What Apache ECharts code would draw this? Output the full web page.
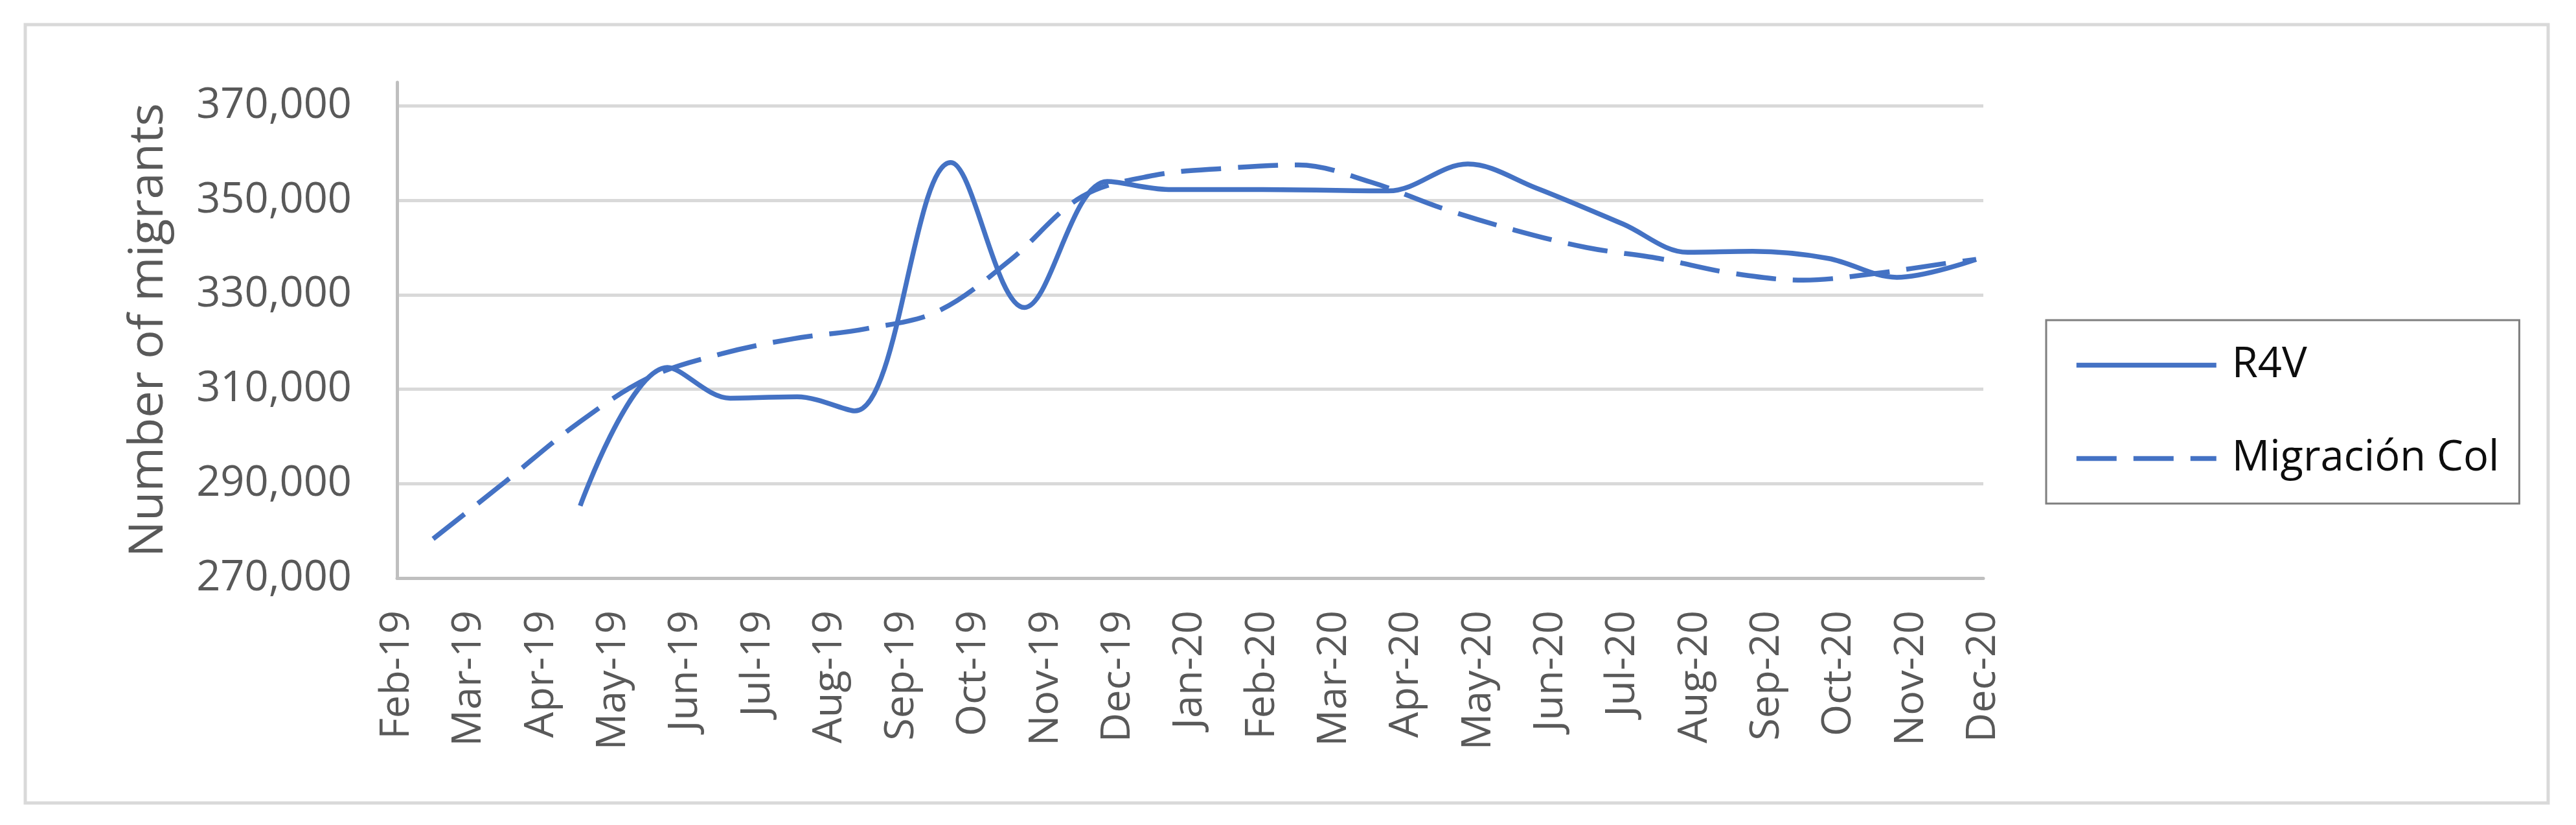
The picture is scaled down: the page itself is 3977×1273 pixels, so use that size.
<!DOCTYPE html>
<html>
<head>
<meta charset="utf-8">
<script src="https://cdn.jsdelivr.net/npm/echarts@6/dist/echarts.min.js"></script>
<style>
    html, body { margin: 0; padding: 0; background: #fff; }
    #chart { width: 3977px; height: 1273px; }
</style>
</head>
<body>
<div id="chart"></div>
<script>
// x positions are in months counted from Feb-19 (0) to Dec-20 (22)
var months = ['Feb-19', 'Mar-19', 'Apr-19', 'May-19', 'Jun-19', 'Jul-19', 'Aug-19', 'Sep-19', 'Oct-19', 'Nov-19', 'Dec-19',
    'Jan-20', 'Feb-20', 'Mar-20', 'Apr-20', 'May-20', 'Jun-20', 'Jul-20', 'Aug-20', 'Sep-20', 'Oct-20', 'Nov-20', 'Dec-20'];
var yTicks = [270000, 290000, 310000, 330000, 350000, 370000];

var r4vX = [2.54, 3.75, 4.62, 5.55, 6.35, 7.68, 8.7, 9.85, 10.7, 12.0, 13.75, 14.85, 15.8, 17.0, 17.9, 18.8, 19.85, 20.8, 21.9];
var r4vY = [285300, 314600, 308100, 308400, 305400, 358000, 327300, 354000, 352300, 352300, 352000, 357700, 352600, 345000, 339000, 339200, 337700, 333700, 337500];

var colX = [0.5, 1.5, 2.5, 3.5, 4.5, 5.5, 6.5, 7.5, 8.5, 9.5, 10.5, 11.5, 12.5, 13.5, 14.5, 15.5, 16.5, 17.5, 18.5, 19.5, 20.5, 21.5, 21.9];
var colY = [278300, 290400, 302700, 312500, 317500, 320700, 322800, 326500, 337300, 350800, 355300, 356800, 357500, 353900, 348300, 343700, 340000, 337700, 334600, 333100, 334500, 336700, 337500];

function pairs(xs, ys) {
    return xs.map(function (x, i) { return [x, ys[i]]; });
}

var chart = echarts.init(document.getElementById('chart'));
chart.setOption({
    animation: false,
    backgroundColor: '#fff',
    textStyle: { fontFamily: 'Open Sans' },
    // outer chart frame
    graphic: [{
        type: 'rect',
        shape: { x: 39, y: 38, width: 3895, height: 1201 },
        style: { fill: 'none', stroke: '#d9d9d9', lineWidth: 5 }
    }],
    grid: { left: 613, right: 915, top: 127, bottom: 381 },
    legend: {
        orient: 'vertical',
        left: 3159,
        top: 494,
        padding: [37, 31, 37, 43],
        itemGap: 79,
        itemWidth: 216,
        itemHeight: 20,
        borderColor: '#7f7f7f',
        borderWidth: 3,
        // line only, no marker in the middle
        itemStyle: { color: 'rgba(0,0,0,0)', borderColor: 'rgba(0,0,0,0)', borderWidth: 0 },
        lineStyle: { width: 7.5, cap: 'butt' },
        textStyle: { fontSize: 65, color: '#0d0d0d', padding: [0, 0, 0, 19] },
        data: ['R4V', 'Migración Col']
    },
    xAxis: {
        type: 'value',
        min: 0,
        max: 22,
        interval: 1,
        splitLine: { show: false },
        axisTick: { show: false },
        axisLine: { lineStyle: { color: '#bfbfbf', width: 5 } },
        axisLabel: {
            rotate: 90,
            margin: 50,
            fontSize: 63,
            color: '#595959',
            formatter: function (v) { return months[v] || ''; }
        }
    },
    yAxis: {
        type: 'value',
        min: 270000,
        max: 375000,
        interval: 10000,
        name: 'Number of migrants',
        nameLocation: 'middle',
        nameGap: 346,
        nameTextStyle: { fontSize: 74, color: '#595959' },
        axisTick: { show: false },
        axisLine: { show: true, lineStyle: { color: '#bfbfbf', width: 5 } },
        splitLine: {
            showMaxLine: false,
            lineStyle: { color: ['#d9d9d9', 'rgba(0,0,0,0)'], width: 5 }
        },
        axisLabel: {
            margin: 70,
            fontSize: 65,
            color: '#595959',
            formatter: function (v) {
                return yTicks.indexOf(v) >= 0 ? String(v).replace(/\B(?=(\d{3})+(?!\d))/g, ',') : '';
            }
        }
    },
    series: [
        {
            name: 'R4V',
            type: 'line',
            smooth: 0.35,
            symbol: 'none',
            lineStyle: { color: '#4472c4', width: 7.5 },
            itemStyle: { color: '#4472c4' },
            data: pairs(r4vX, r4vY)
        },
        {
            name: 'Migración Col',
            type: 'line',
            smooth: 0.35,
            symbol: 'none',
            lineStyle: { color: '#4472c4', width: 7.5, type: [62, 26], cap: 'butt' },
            itemStyle: { color: '#4472c4' },
            data: pairs(colX, colY)
        }
    ]
});
</script>
</body>
</html>
